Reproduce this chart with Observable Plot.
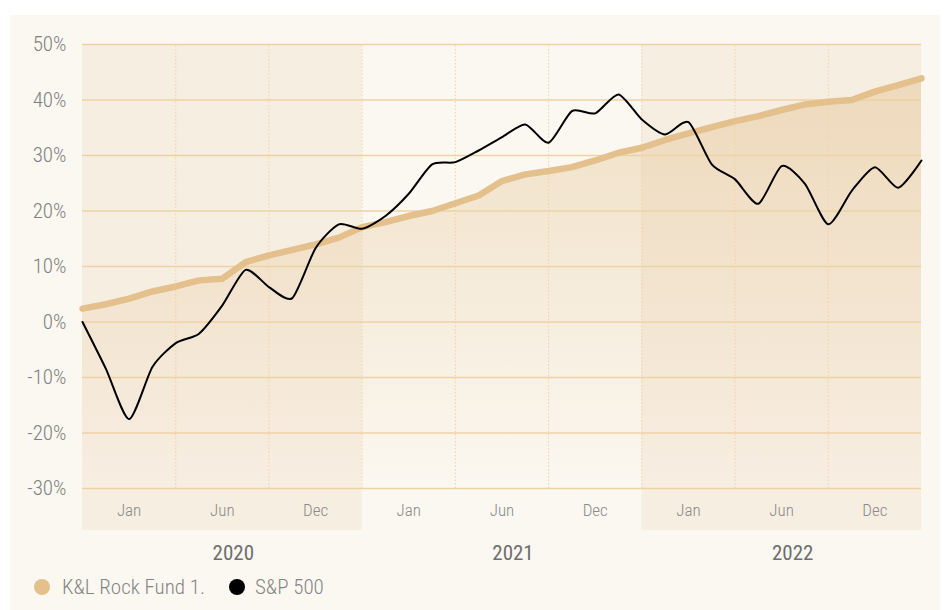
<!DOCTYPE html>
<html><head><meta charset="utf-8">
<script src="https://cdn.jsdelivr.net/npm/d3@7"></script>
<script src="https://cdn.jsdelivr.net/npm/@observablehq/plot@0.6"></script>
<style>
html,body{margin:0;padding:0;background:#fff;}
body{width:949px;height:610px;overflow:hidden;position:relative;font-family:"Roboto Condensed","Roboto",sans-serif;}
#card{position:absolute;left:10px;top:15px;width:930px;height:595px;background:#fbf8f1;}
#chart{position:absolute;left:0;top:0;}
.lg{position:absolute;font-size:21px;font-weight:300;color:#858585;line-height:20px;white-space:nowrap;}
.dot{position:absolute;width:16px;height:16px;border-radius:50%;}
</style></head>
<body>
<div id="card"><div id="chart"></div><div id="legend"></div></div>
<script>
const years = [2020, 2021, 2022];
const monthLabels = ["Jan", "Jun", "Dec"];
const yTicks = [-30, -20, -10, 0, 10, 20, 30, 40, 50];
const seriesNames = ["K&L Rock Fund 1.", "S&P 500"];
const seriesColors = ["#e3c08c", "#000000"];
const fund = [2.4, 3.2, 4.2, 5.5, 6.4, 7.5, 7.8, 10.8, 12.0, 13.0, 14.0, 15.2, 17.1,
  18.0, 19.1, 20.0, 21.4, 22.8, 25.4, 26.6, 27.2, 27.9, 29.1, 30.5, 31.4,
  32.8, 34.0, 35.1, 36.2, 37.1, 38.2, 39.2, 39.7, 40.0, 41.5, 42.7, 43.9];
const sp500 = [0, -8.4, -17.5, -8.1, -3.8, -2.1, 3.0, 9.4, 6.3, 4.3, 13.3, 17.6, 16.8,
  19.1, 23.1, 28.4, 28.8, 30.9, 33.3, 35.6, 32.3, 38.0, 37.6, 41.0, 36.5,
  33.8, 36.0, 28.4, 25.7, 21.3, 28.1, 24.9, 17.6, 23.6, 27.9, 24.2, 29.1];

const data = fund.map((f, i) => ({i, fund: f, sp: sp500[i]}));
const perYear = 12, perLabel = 4;
const bands = years.map((y, k) => ({k, x1: k * perYear, x2: (k + 1) * perYear})).filter(d => d.k % 2 === 0);
const vLines = d3.range(perLabel, years.length * perYear, perLabel);
const monthTicks = years.flatMap((y, k) => monthLabels.map((m, j) => ({x: k * perYear + j * perLabel + perLabel / 2, label: m})));
const yearTicks = years.map((y, k) => ({x: k * perYear + perYear / 2, label: String(y)}));
const yMin = yTicks[0], yMax = yTicks[yTicks.length - 1];

const gradient = () => {
  const defs = d3.create("svg:defs");
  const g = defs.append("linearGradient").attr("id", "fundGrad")
    .attr("x1", 0).attr("x2", 0).attr("y1", 0).attr("y2", 1);
  g.append("stop").attr("offset", "0%").attr("stop-color", seriesColors[0]).attr("stop-opacity", 0.45);
  g.append("stop").attr("offset", "100%").attr("stop-color", seriesColors[0]).attr("stop-opacity", 0.0);
  return defs.node();
};

const plot = Plot.plot({
  width: 930, height: 560,
  marginLeft: 72, marginRight: 19, marginTop: 29, marginBottom: 87,
  style: {background: "transparent", fontFamily: '"Roboto Condensed", Roboto, sans-serif', fontSize: "21px", color: "#808080", fontWeight: 300, overflow: "visible"},
  x: {domain: [0, years.length * perYear], axis: null},
  y: {domain: [yMin, yMax], ticks: yTicks, tickFormat: d => d + "%", tickSize: 0, tickPadding: 16, label: null},
  marks: [
    gradient,
    Plot.rect(bands, {x1: "x1", x2: "x2", y1: yMax, y2: yMin, insetBottom: -42, fill: "#f7eee2"}),
    Plot.areaY(data, {x: "i", y1: yMin, y2: "fund", fill: "url(#fundGrad)"}),
    Plot.ruleY(yTicks, {stroke: "#efd2a4", strokeWidth: 1.3}),
    Plot.ruleX(vLines, {y1: yMin, y2: yMax, stroke: "#efd3a6", strokeDasharray: "1.5,2"}),
    Plot.lineY(data, {x: "i", y: "fund", stroke: seriesColors[0], strokeWidth: 6.5, strokeLinecap: "round", strokeLinejoin: "round"}),
    Plot.lineY(data, {x: "i", y: "sp", stroke: seriesColors[1], strokeWidth: 2, curve: "cardinal", tension: 0.3}),
    Plot.text(monthTicks, {x: "x", y: yMin, dy: 22, text: "label", fontSize: 17, fill: "#8a8a8a", fontWeight: 300}),
    Plot.text(yearTicks, {x: "x", y: yMin, dy: 65, dx: 11, text: "label", fontSize: 21, fill: "#6e6e6e", fontWeight: 400})
  ]
});
document.getElementById("chart").appendChild(plot);

const legend = document.getElementById("legend");
const dotLeft = [24, 219], textLeft = [52, 245];
seriesNames.forEach((name, k) => {
  const dot = document.createElement("div");
  dot.className = "dot";
  dot.style.left = dotLeft[k] + "px"; dot.style.top = "564px";
  dot.style.background = seriesColors[k];
  legend.appendChild(dot);
  const t = document.createElement("div");
  t.className = "lg";
  t.style.left = textLeft[k] + "px"; t.style.top = "562px";
  t.textContent = name;
  legend.appendChild(t);
});
</script>
</body></html>
